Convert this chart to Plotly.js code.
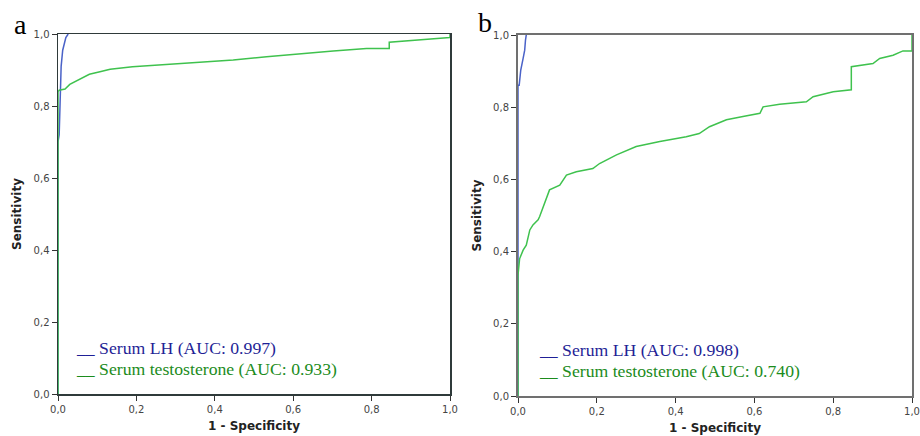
<!DOCTYPE html>
<html>
<head>
<meta charset="utf-8">
<script src="https://cdn.plot.ly/plotly-3.0.1.min.js"></script>
<style>html,body{margin:0;padding:0;background:#fff;}#chart{width:920px;height:436px;}</style>
</head>
<body>
<div id="chart"></div>
<script>
// Panel a
var aLH_x = [0, 0, 0.003, 0.005, 0.008, 0.012, 0.02, 0.026];
var aLH_y = [0, 0.70, 0.72, 0.82, 0.91, 0.955, 0.99, 1.0];
var aTesto_x = [0, 0, 0.003, 0.018, 0.03, 0.045, 0.056, 0.07, 0.08, 0.107, 0.133, 0.19, 0.277, 0.362, 0.447, 0.532, 0.617, 0.702, 0.787, 0.845, 0.845, 0.915, 1.0, 1.0];
var aTesto_y = [0, 0.84, 0.844, 0.847, 0.86, 0.868, 0.875, 0.882, 0.888, 0.895, 0.902, 0.909, 0.916, 0.923, 0.928, 0.937, 0.946, 0.953, 0.960, 0.960, 0.977, 0.983, 0.99, 1.0];
// Panel b
var bLH_x = [0, 0, 0.003, 0.007, 0.013, 0.017, 0.019, 0.021];
var bLH_y = [0, 0.861, 0.861, 0.903, 0.935, 0.958, 0.986, 1.0];
var bTesto_x = [0, 0, 0.004, 0.013, 0.021, 0.03, 0.038, 0.051, 0.055, 0.068, 0.08, 0.106, 0.123, 0.148, 0.19, 0.207, 0.25, 0.30, 0.36, 0.427, 0.46, 0.486, 0.529, 0.571, 0.614, 0.622, 0.664, 0.732, 0.749, 0.80, 0.846, 0.846, 0.901, 0.918, 0.952, 0.977, 0.998, 1.0, 1.0];
var bTesto_y = [0, 0.335, 0.38, 0.404, 0.418, 0.46, 0.474, 0.488, 0.497, 0.534, 0.571, 0.584, 0.612, 0.621, 0.63, 0.644, 0.668, 0.691, 0.705, 0.718, 0.727, 0.746, 0.765, 0.774, 0.783, 0.801, 0.808, 0.815, 0.829, 0.843, 0.848, 0.912, 0.921, 0.935, 0.944, 0.956, 0.956, 0.956, 1.0];

var tickVals = [0, 0.2, 0.4, 0.6, 0.8, 1.0];
var panelLabels = ['a', 'b'];
var legendA = ['__ Serum LH (AUC: 0.997)', '__ Serum testosterone (AUC: 0.933)'];
var legendB = ['__ Serum LH (AUC: 0.998)', '__ Serum testosterone (AUC: 0.740)'];

var blueLine = '#4a62c8', greenLine = '#3fc24e';
var blueText = '#1f1f96', greenText = '#1c8c1c';

var traces = [
  {x: aLH_x, y: aLH_y, xaxis: 'x', yaxis: 'y', mode: 'lines', line: {color: blueLine, width: 1.5}, name: 'Serum LH'},
  {x: aTesto_x, y: aTesto_y, xaxis: 'x', yaxis: 'y', mode: 'lines', line: {color: greenLine, width: 1.5}, name: 'Serum testosterone'},
  {x: bLH_x, y: bLH_y, xaxis: 'x2', yaxis: 'y2', mode: 'lines', line: {color: blueLine, width: 1.5}, name: 'Serum LH'},
  {x: bTesto_x, y: bTesto_y, xaxis: 'x2', yaxis: 'y2', mode: 'lines', line: {color: greenLine, width: 1.5}, name: 'Serum testosterone'}
];

function axis(domain, anchor, lineColor, lineWidth, titleText, isX) {
  return {
    domain: domain, anchor: anchor, range: [0, 1], tickvals: tickVals, tickformat: '.1f',
    showgrid: false, zeroline: false, showline: true, mirror: true, linecolor: lineColor, linewidth: lineWidth,
    layer: 'above traces',
    ticks: 'outside', ticklen: 5, tickcolor: '#333', tickwidth: 1,
    tickfont: {family: 'DejaVu Sans', size: 10, color: '#444'},
    title: {text: titleText, font: {family: 'DejaVu Sans', size: 12, color: '#222', weight: 'bold'}, standoff: isX ? 8 : 9},
    fixedrange: true
  };
}

var ann = [];
ann.push({xref: 'paper', yref: 'paper', x: 12/920, y: 1 - 24/436, xanchor: 'left', yanchor: 'middle', text: panelLabels[0], showarrow: false, font: {family: 'Liberation Serif', size: 28, color: '#000'}});
ann.push({xref: 'paper', yref: 'paper', x: 476/920, y: 1 - 22/436, xanchor: 'left', yanchor: 'middle', text: panelLabels[1], showarrow: false, font: {family: 'Liberation Serif', size: 28, color: '#000'}});
var legCols = [blueText, greenText];
legendA.forEach(function (t, i) {
  ann.push({xref: 'paper', yref: 'paper', x: 74/920, y: 1 - (348 + 21 * i)/436, xanchor: 'left', yanchor: 'middle', text: t, showarrow: false, font: {family: 'Liberation Serif', size: 17.7, color: legCols[i]}});
});
legendB.forEach(function (t, i) {
  ann.push({xref: 'paper', yref: 'paper', x: 537/920, y: 1 - (350 + 21 * i)/436, xanchor: 'left', yanchor: 'middle', text: t, showarrow: false, font: {family: 'Liberation Serif', size: 17.7, color: legCols[i]}});
});

var layout = {
  width: 920, height: 436,
  margin: {l: 0, r: 0, t: 0, b: 0},
  paper_bgcolor: '#fff', plot_bgcolor: '#fff',
  showlegend: false,
  separators: ',.',
  xaxis: axis([58/920, 450/920], 'y', '#2f3a3a', 1.5, '1 - Specificity', true),
  yaxis: axis([1 - 394/436, 1 - 34/436], 'x', '#2f3a3a', 1.5, 'Sensitivity', false),
  xaxis2: axis([518/920, 912/920], 'y2', '#707070', 2, '1 - Specificity', true),
  yaxis2: axis([1 - 396/436, 1 - 35/436], 'x2', '#707070', 2, 'Sensitivity', false),
  annotations: ann
};

Plotly.newPlot('chart', traces, layout, {displayModeBar: false, staticPlot: true});
</script>
</body>
</html>
